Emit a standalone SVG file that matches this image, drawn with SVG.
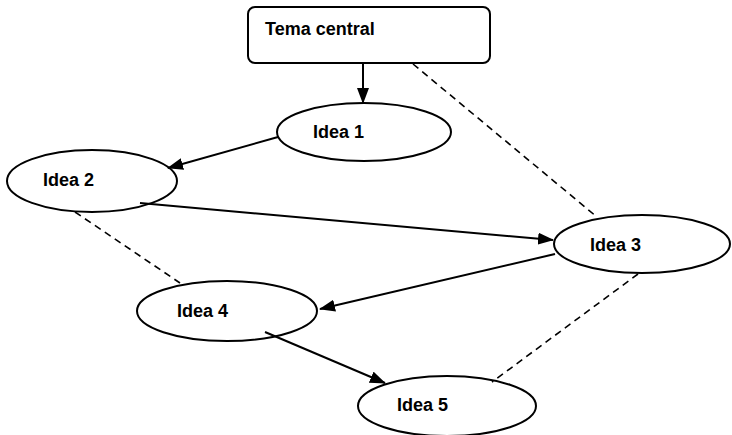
<svg xmlns="http://www.w3.org/2000/svg" width="732" height="435" viewBox="0 0 732 435">
<style>
.n{fill:#fff;stroke:#000;stroke-width:2}
.t{font-family:"Liberation Sans",Arial,sans-serif;font-weight:bold;font-size:18px;fill:#000}
.a{stroke:#000;stroke-width:2;fill:none;marker-end:url(#ah)}
.d{stroke:#000;stroke-width:1.6;fill:none;stroke-dasharray:7 5}
</style>
<defs>
<marker id="ah" viewBox="0 0 16 12" refX="15" refY="6" markerWidth="16" markerHeight="12" markerUnits="userSpaceOnUse" orient="auto">
<path d="M0,0 L16,6 L0,12 z" fill="#000"/>
</marker>
</defs>
<rect width="732" height="435" fill="#fff"/>
<g id="tema">
<rect class="n" x="248" y="7" width="242" height="56" rx="7"/>
<text class="t" x="265" y="35">Tema central</text>
</g>
<g id="idea1">
<ellipse class="n" cx="364" cy="132" rx="87" ry="29"/>
<text class="t" x="313" y="138">Idea 1</text>
</g>
<g id="idea2">
<ellipse class="n" cx="92" cy="181" rx="85" ry="31"/>
<text class="t" x="43" y="186">Idea 2</text>
</g>
<g id="idea3">
<ellipse class="n" cx="642" cy="244" rx="88" ry="29"/>
<text class="t" x="590" y="251">Idea 3</text>
</g>
<g id="idea4">
<ellipse class="n" cx="227" cy="311" rx="90" ry="30"/>
<text class="t" x="177" y="317">Idea 4</text>
</g>
<g id="idea5">
<ellipse class="n" cx="447" cy="406" rx="89" ry="30"/>
<text class="t" x="397" y="411">Idea 5</text>
</g>
<g id="connectors">
<line class="a" x1="363" y1="63" x2="363" y2="103"/>
<line class="a" x1="278" y1="137" x2="168" y2="168"/>
<line class="a" x1="140" y1="203" x2="553" y2="240"/>
<line class="a" x1="555" y1="254" x2="320" y2="309"/>
<line class="a" x1="265" y1="332" x2="385" y2="383"/>
<line class="d" x1="413" y1="64" x2="597" y2="217"/>
<line class="d" x1="75" y1="212" x2="180" y2="283"/>
<line class="d" x1="638" y1="274" x2="492" y2="382"/>
</g>
</svg>
